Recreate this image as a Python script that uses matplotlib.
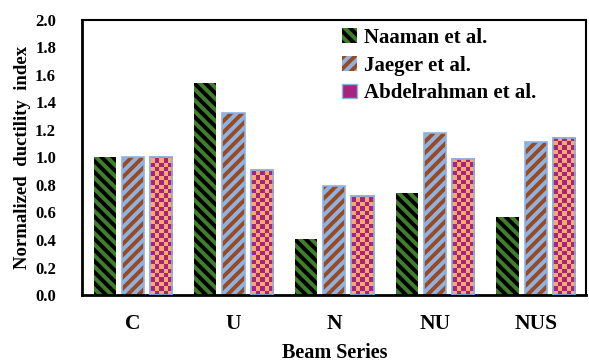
import numpy as np
import matplotlib
matplotlib.use("Agg")
import matplotlib.pyplot as plt
import matplotlib.patches as mpatches
from matplotlib.colors import ListedColormap

categories = ["C", "U", "N", "NU", "NUS"]
series_names = ["Naaman et al.", "Jaeger et al.", "Abdelrahman et al."]
naaman = [1.00, 1.54, 0.41, 0.74, 0.57]
jaeger = [1.00, 1.32, 0.79, 1.18, 1.11]
abdelrahman = [1.00, 0.91, 0.72, 0.99, 1.14]
yticks = [0.0, 0.2, 0.4, 0.6, 0.8, 1.0, 1.2, 1.4, 1.6, 1.8, 2.0]

plt.rcParams["font.family"] = ["Liberation Serif", "DejaVu Serif"]
plt.rcParams["font.weight"] = "bold"
plt.rcParams["hatch.linewidth"] = 2.8

fig = plt.figure(figsize=(5.89, 3.62), dpi=100)
ax = fig.add_axes([0.140, 0.185, 0.855, 0.76])

x = np.arange(len(categories))
w = 0.22
step = 0.28
green = "#3f7f2c"
blue = "#8eb2e2"
orange = "#f8a96b"
magenta = "#a8237d"
brown = "#9a4a1e"

b1 = ax.bar(x - step, naaman, w, color=green, edgecolor="black", hatch="\\\\\\", linewidth=0, label=series_names[0])
b2 = ax.bar(x, jaeger, w, color=blue, edgecolor=brown, hatch="///", linewidth=0, label=series_names[1])
ax.bar(x, jaeger, w, fill=False, edgecolor=blue, linewidth=1.2)
b3 = ax.bar(x + step, abdelrahman, w, color=orange, edgecolor=blue, linewidth=1.2, label=series_names[2])

ax.set_xlim(-0.5, len(categories) - 0.5)
ax.set_ylim(0, 2.0)

# checkerboard texture for the Abdelrahman bars
cmap = ListedColormap([orange, magenta])
ppx = ax.get_position().width * fig.get_figwidth() * fig.dpi / (ax.get_xlim()[1] - ax.get_xlim()[0])
ppy = ax.get_position().height * fig.get_figheight() * fig.dpi / (ax.get_ylim()[1] - ax.get_ylim()[0])
cell = 4.4
for p in b3.patches:
    x0, y0 = p.get_x(), p.get_y()
    pw, ph = p.get_width(), p.get_height()
    nc = max(1, int(np.ceil(pw * ppx / cell)))
    nr = max(1, int(np.ceil(ph * ppy / cell)))
    ii, jj = np.indices((nr, nc))
    pat = (ii + jj) % 2
    im = ax.imshow(pat, cmap=cmap, extent=(x0, x0 + nc * cell / ppx, y0, y0 + nr * cell / ppy),
                   origin="lower", aspect="auto", interpolation="nearest", zorder=p.get_zorder() + 0.1)
    im.set_clip_path(p)
ax.bar(x + step, abdelrahman, w, fill=False, edgecolor=blue, linewidth=1.2, zorder=3)

ax.set_xlim(-0.5, len(categories) - 0.5)
ax.set_ylim(0, 2.0)
ax.set_xticks(x)
ax.set_xticklabels(categories, fontsize=15.5, fontweight="bold")
ax.set_yticks(yticks)
ax.set_yticklabels([f"{v:.1f}" for v in yticks], fontsize=12, fontweight="bold")
ax.tick_params(axis="both", length=0)
ax.tick_params(axis="x", pad=14)
ax.tick_params(axis="y", pad=19)
for s in ax.spines.values():
    s.set_linewidth(1.5)
    s.set_color("black")
ax.spines["left"].set_linewidth(2)
ax.spines["bottom"].set_linewidth(2)

ax.set_xlabel("Beam Series", fontsize=14.5, fontweight="bold", labelpad=6)
ax.set_ylabel("Normalized  ductility  index", fontsize=13.5, fontweight="bold", labelpad=3)

h1 = mpatches.Patch(facecolor=green, edgecolor="black", hatch="\\\\\\", linewidth=0)
h2 = mpatches.Patch(facecolor=blue, edgecolor=brown, hatch="///", linewidth=0)
h3 = mpatches.Patch(facecolor=magenta, edgecolor=blue, linewidth=1)
leg = ax.legend([h1, h2, h3], series_names, loc="upper left", bbox_to_anchor=(0.478, 1.04),
                frameon=False, handlelength=0.7, handleheight=0.7,
                handletextpad=0.35, labelspacing=0.38, prop={"weight": "bold", "size": 15})

fig.savefig("out.png", dpi=100)
